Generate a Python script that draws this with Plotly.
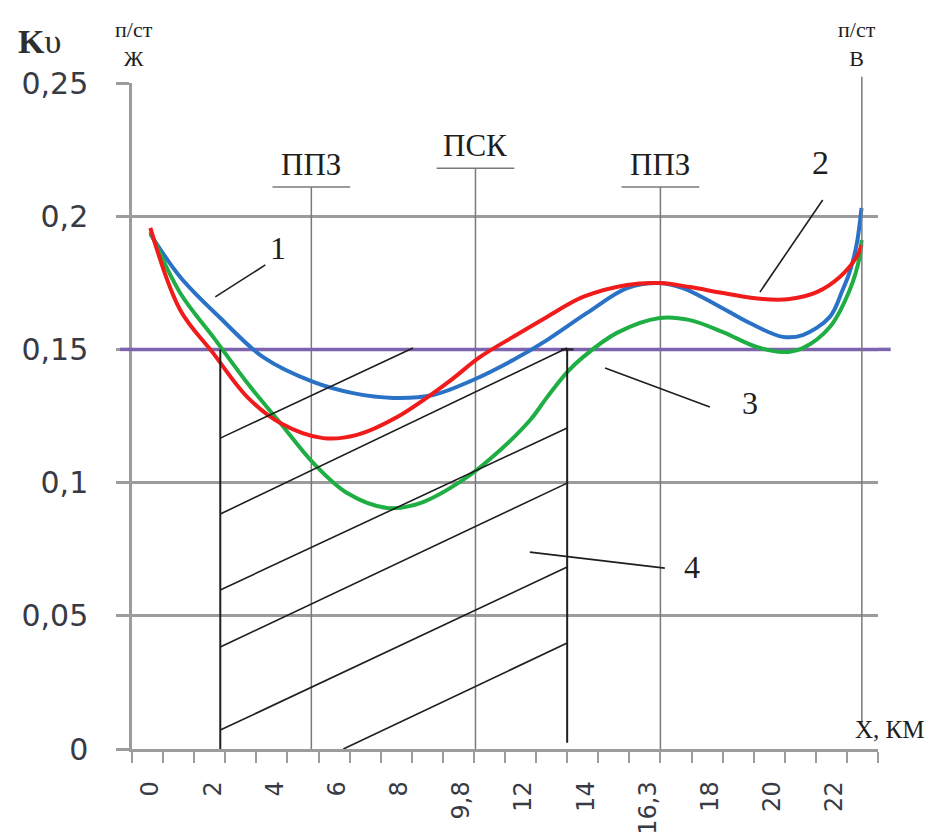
import plotly.graph_objects as go

# ---- axis: positions along the line (one unit per minor tick) ----
tick_pos = [0.6, 2.6, 4.6, 6.6, 8.6, 10.6, 12.6, 14.6, 16.6, 18.6, 20.6, 22.6]
tick_text = ["0", "2", "4", "6", "8", "9,8", "12", "14", "16,3", "18", "20", "22"]
y_ticks = [0, 0.05, 0.1, 0.15, 0.2, 0.25]
y_text = ["0", "0,05", "0,1", "0,15", "0,2", "0,25"]
X_MAX, Y_MAX = 24, 0.25

# ---- curve 1 (blue) ----
pos_1 = [0.59, 1.55, 2.84, 4.22, 5.83, 7.11, 8.40, 9.69, 10.97, 12.26, 13.35, 14.64,
         15.93, 16.98, 17.72, 18.81, 19.87, 20.94, 21.58, 22.45, 22.86, 23.09, 23.31, 23.47]
ku_1 = [0.1933, 0.1772, 0.1618, 0.1471, 0.1378, 0.1336, 0.1318, 0.1329, 0.1385, 0.1460, 0.1535, 0.1637,
        0.1730, 0.1749, 0.1730, 0.1667, 0.1599, 0.1547, 0.1554, 0.1622, 0.1723, 0.1791, 0.1892, 0.2031]

# ---- curve 2 (red) ----
pos_2 = [0.59, 1.55, 2.61, 3.71, 4.77, 6.15, 7.24, 8.53, 10.14, 11.19, 12.26, 13.35,
         14.51, 15.93, 16.98, 17.95, 19.01, 20.29, 21.16, 22.03, 22.77, 23.31, 23.47]
ku_2 = [0.1956, 0.1648, 0.1486, 0.1321, 0.1224, 0.1167, 0.1179, 0.1246, 0.1374, 0.1471, 0.1547, 0.1622,
        0.1697, 0.1742, 0.1749, 0.1734, 0.1712, 0.1689, 0.1689, 0.1715, 0.1772, 0.1847, 0.1892]

# ---- curve 3 (green) ----
pos_3 = [0.59, 1.55, 2.61, 3.71, 4.77, 5.83, 6.92, 8.21, 9.27, 10.65, 11.74, 12.81, 13.35,
         14.0, 14.51, 15.60, 16.98, 17.95, 19.01, 20.10, 20.94, 21.58, 22.45, 23.09, 23.41, 23.47]
ku_3 = [0.1941, 0.1712, 0.1547, 0.1374, 0.1224, 0.1074, 0.0961, 0.0905, 0.0923, 0.1010, 0.1111, 0.1235, 0.1320,
        0.1415, 0.1471, 0.1562, 0.1618, 0.1610, 0.1565, 0.1509, 0.1490, 0.1505, 0.1584, 0.1723, 0.1847, 0.1911]

# permissible level
K_NORM = 0.15
NORM_COLOR = "#7d62ad"

# stations / zones along the line
zone_pos = [5.77, 11.05, 17.0]
zone_names = ["ППЗ", "ПСК", "ППЗ"]
zone_top = [0.211, 0.218, 0.211]
station_end = 23.48

# hatched area 4: bounds and hatch segments (start pos, start Ku, end pos, end Ku)
area_left, area_right = 2.84, 14.0
hatch_x0 = [2.84, 2.84, 2.84, 2.84, 2.84, 6.80]
hatch_y0 = [0.1167, 0.0882, 0.0597, 0.0383, 0.0071, 0.0]
hatch_x1 = [9.04, 14.0, 14.0, 14.0, 14.0, 14.0]
hatch_y1 = [0.1505, 0.1505, 0.1205, 0.0998, 0.0683, 0.0398]

GRID = "#9c9c9c"
VGRID = "#7a7a7a"
INK = "#1e1e1e"
TXT = "#383a44"
SERIF = "Liberation Serif, Times New Roman, serif"

fig = go.Figure()

# permissible level line, under the curves
fig.add_trace(go.Scatter(x=[0, X_MAX], y=[K_NORM, K_NORM], mode="lines",
                         line=dict(color=NORM_COLOR, width=3.5),
                         hoverinfo="skip", showlegend=False))

curve_style = [
    (pos_1, ku_1, "#2a72c6"),
    (pos_3, ku_3, "#1fae43"),
    (pos_2, ku_2, "#f01c1c"),
]
for xs, ys, col in curve_style:
    fig.add_trace(go.Scatter(x=xs, y=ys, mode="lines",
                             line=dict(color=col, width=4, shape="spline", smoothing=1.0),
                             hoverinfo="skip", showlegend=False))

shapes = []
# guide lines of zones
for zp, zt in zip(zone_pos, zone_top):
    shapes.append(dict(type="line", xref="x", yref="y", x0=zp, x1=zp, y0=0, y1=zt,
                       line=dict(color=VGRID, width=1.5), layer="between"))
    shapes.append(dict(type="line", xref="x", yref="y", x0=zp - 1.25, x1=zp + 1.25, y0=zt, y1=zt,
                       line=dict(color=VGRID, width=1.5), layer="between"))
# substation line on the right
shapes.append(dict(type="line", xref="x", yref="paper", x0=station_end, x1=station_end,
                   y0=0.0095 / Y_MAX, y1=0.2523 / Y_MAX,
                   line=dict(color=VGRID, width=1.5), layer="above"))
# short continuations of the permissible level beyond the frame
for a, b in ((-0.016, 0.0), (1.0, 1.017)):
    shapes.append(dict(type="line", xref="paper", yref="y", x0=a, x1=b, y0=K_NORM, y1=K_NORM,
                       line=dict(color=NORM_COLOR, width=3.5), layer="above"))
# hatched area
shapes.append(dict(type="line", xref="x", yref="y", x0=area_left, x1=area_left, y0=-0.001, y1=K_NORM,
                   line=dict(color=INK, width=2)))
shapes.append(dict(type="line", xref="x", yref="y", x0=area_right, x1=area_right, y0=0.0023, y1=K_NORM,
                   line=dict(color=INK, width=2)))
shapes.append(dict(type="line", xref="x", yref="y", x0=area_right - 0.2, x1=area_right + 0.2,
                   y0=K_NORM, y1=K_NORM, line=dict(color=INK, width=2)))
for a, b, c, d in zip(hatch_x0, hatch_y0, hatch_x1, hatch_y1):
    shapes.append(dict(type="line", xref="x", yref="y", x0=a, y0=b, x1=c, y1=d,
                       line=dict(color=INK, width=1.6)))

# leader lines for curve numbers
leaders = [
    (4.29, 0.1817, 2.68, 0.1697),
    (22.22, 0.2061, 20.2, 0.1715),
    (15.22, 0.1430, 18.59, 0.1284),
    (12.8, 0.0739, 17.14, 0.0679),
]
for a, b, c, d in leaders:
    shapes.append(dict(type="line", xref="x", yref="y", x0=a, y0=b, x1=c, y1=d,
                       line=dict(color=INK, width=1.6)))

annotations = []
def note(x, y, text, size, family=SERIF, color=INK, xanchor="center", yanchor="middle"):
    # placed in paper units so that text outside the axis ranges stays visible
    annotations.append(dict(x=x / X_MAX, y=y / Y_MAX, xref="paper", yref="paper", text=text,
                            showarrow=False, xanchor=xanchor, yanchor=yanchor,
                            font=dict(family=family, size=size, color=color)))

note(-2.98, 0.2654, "<b>K</b>υ", 34, color="#2e2e2e")
note(0.08, 0.2646, "п/ст<br>Ж", 22)
note(23.34, 0.2646, "п/ст<br>В", 22)
for zp, zt, name in zip(zone_pos, zone_top, zone_names):
    note(zp, zt + 0.0012, name, 31, yanchor="bottom")
note(4.70, 0.1880, "1", 32)
note(22.16, 0.2203, "2", 34)
note(19.87, 0.1299, "3", 32)
note(18.0, 0.0683, "4", 32)
note(24.38, 0.0075, "Х, КМ", 25)

fig.update_layout(
    width=946, height=836,
    margin=dict(l=132, r=68, t=83, b=87),
    paper_bgcolor="white", plot_bgcolor="white",
    shapes=shapes, annotations=annotations,
    xaxis=dict(range=[0, X_MAX], showgrid=False, zeroline=False, automargin=False,
               showline=True, linecolor=GRID, linewidth=2.5,
               tickmode="array", tickvals=tick_pos, ticktext=tick_text,
               ticks="", tickangle=-90, ticklabelstandoff=20,
               tickfont=dict(family="DejaVu Sans", size=24, color=TXT),
               minor=dict(tickmode="linear", tick0=0, dtick=1, ticks="outside",
                          ticklen=11, tickwidth=2, tickcolor=GRID, showgrid=False)),
    yaxis=dict(range=[0, Y_MAX], showgrid=True, gridcolor=GRID, gridwidth=2.5, zeroline=False,
               automargin=False,
               showline=True, linecolor=GRID, linewidth=2.5,
               tickmode="array", tickvals=y_ticks, ticktext=y_text,
               ticks="outside", ticklen=13, tickwidth=2.5, tickcolor=GRID,
               ticklabelstandoff=22,
               tickfont=dict(family="DejaVu Sans", size=30, color=TXT)),
)

fig.write_html("out.html")
